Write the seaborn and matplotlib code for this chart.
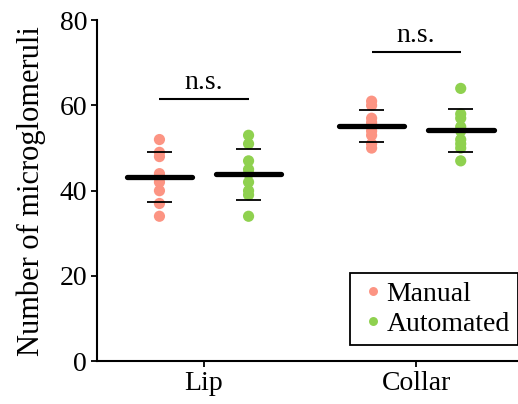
import numpy as np
import pandas as pd
import matplotlib
matplotlib.use("Agg")
import matplotlib.pyplot as plt
import seaborn as sns

regions = ["Lip", "Collar"]
methods = ["Manual", "Automated"]

lip_manual = [52, 49, 48, 44, 43, 42, 40, 37, 34]
lip_automated = [53, 51, 47, 45, 44, 42, 40, 39, 34]
collar_manual = [61, 60, 57, 56, 55, 54, 53, 51, 50]
collar_automated = [64, 58, 57, 55, 54, 52, 51, 50, 47]

palette = {"Manual": "#fc9483", "Automated": "#8fd14f"}

sns.set_style("ticks")
plt.rcParams["font.family"] = ["Liberation Serif", "DejaVu Serif"]
plt.rcParams["font.size"] = 20
plt.rcParams["text.color"] = "black"
plt.rcParams["axes.labelcolor"] = "black"
plt.rcParams["xtick.color"] = "black"
plt.rcParams["ytick.color"] = "black"
plt.rcParams["axes.edgecolor"] = "black"

groups = {
    ("Lip", "Manual"): lip_manual,
    ("Lip", "Automated"): lip_automated,
    ("Collar", "Manual"): collar_manual,
    ("Collar", "Automated"): collar_automated,
}
offsets = {"Manual": -0.21, "Automated": 0.21}

rows = []
for (region, method), vals in groups.items():
    for v in vals:
        rows.append({"region": region, "method": method, "count": v,
                     "x": regions.index(region) + offsets[method]})
df = pd.DataFrame(rows)

fig, ax = plt.subplots(figsize=(5.18, 4.04), dpi=100)
fig.subplots_adjust(left=0.187, right=1.0, bottom=0.106, top=0.95)

sns.scatterplot(data=df, x="x", y="count", hue="method", hue_order=methods,
                palette=palette, s=65, linewidth=0, ax=ax, zorder=2)

# mean and SD lines
stats = df.groupby(["region", "method"])["count"].agg(["mean", "std"]).reset_index()
for _, r in stats.iterrows():
    xc = regions.index(r["region"]) + offsets[r["method"]]
    ax.hlines(r["mean"], xc - 0.155, xc + 0.155, color="black", lw=3.8,
              capstyle="round", zorder=3)
    ax.hlines([r["mean"] - r["std"], r["mean"] + r["std"]], xc - 0.06, xc + 0.06,
              color="black", lw=1.3, zorder=3)

# n.s. brackets
for i, region in enumerate(regions):
    top = max(max(groups[(region, m)]) for m in methods) + 8.5
    ax.hlines(top, i + offsets["Manual"], i + offsets["Automated"], color="black", lw=1.5)
    ax.text(i, top + 0.9, "n.s.", ha="center", va="bottom", fontsize=20)

ax.set_xlim(-0.505, 1.48)
ax.set_ylim(0, 80)
ax.set_yticks([0, 20, 40, 60, 80])
ax.set_xticks(range(len(regions)))
ax.set_xticklabels(regions)
ax.set_xlabel("")
ax.set_ylabel("Number of microglomeruli", fontsize=22, labelpad=10)
ax.tick_params(axis="both", labelsize=20, width=1.3, length=4, pad=3)
for side in ["left", "bottom"]:
    ax.spines[side].set_linewidth(1.5)
sns.despine(ax=ax)

leg = ax.legend(loc="lower right", bbox_to_anchor=(1.0, 0.047), frameon=True,
                fancybox=False, fontsize=20, handletextpad=0.0, borderpad=0.3,
                labelspacing=0.15, markerscale=0.8, borderaxespad=0.0,
                handlelength=1.0)
leg.get_frame().set_edgecolor("black")
leg.get_frame().set_linewidth(1.3)
leg.get_frame().set_alpha(1)

fig.savefig("out.png", dpi=100)
